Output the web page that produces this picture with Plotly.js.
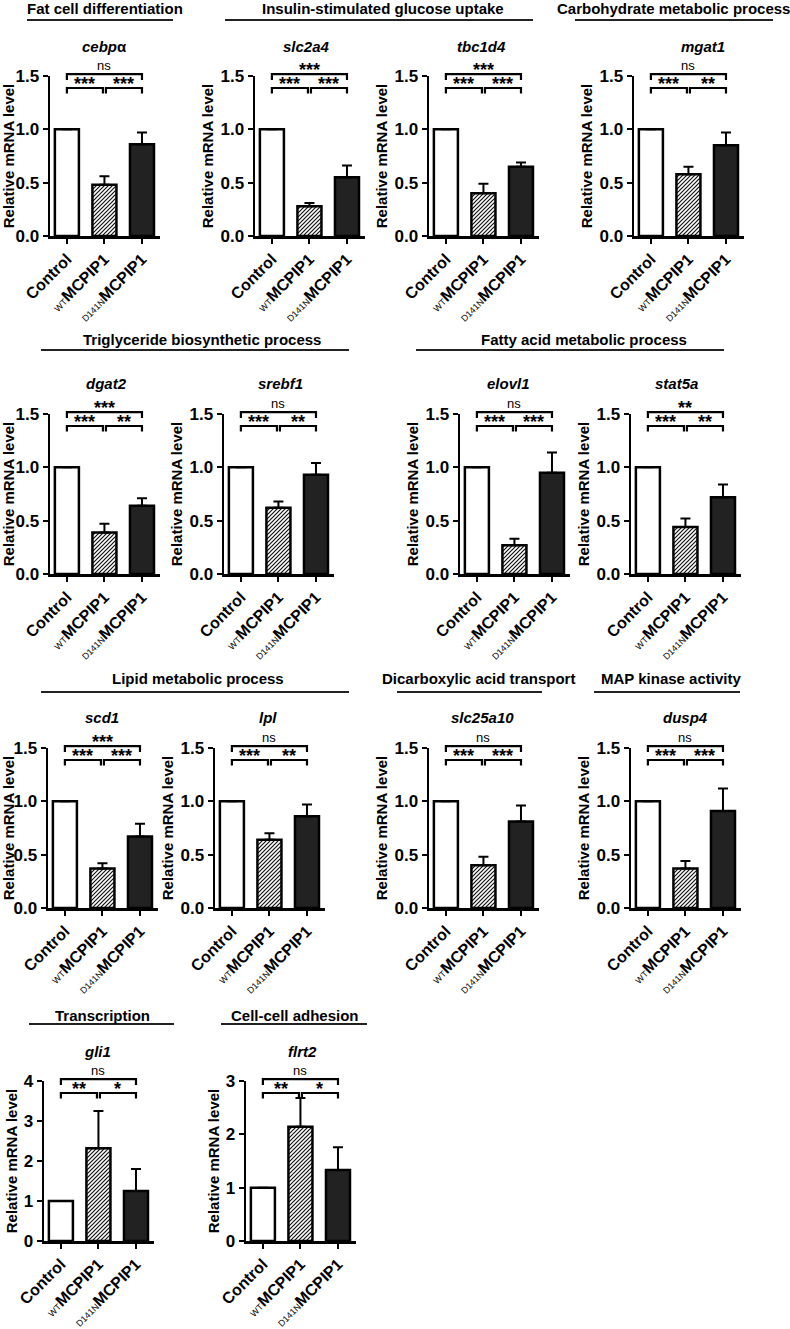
<!DOCTYPE html>
<html><head><meta charset="utf-8">
<script src="https://cdn.plot.ly/plotly-3.0.1.min.js"></script>
<style>html,body{margin:0;padding:0;background:#fff}</style>
</head><body><div id="chart" style="width:790px;height:1329px"></div>
<script>
// ---- data ----
const genes = ['<i>cebp</i>α','<i>slc2a4</i>','<i>tbc1d4</i>','<i>mgat1</i>','<i>dgat2</i>','<i>srebf1</i>','<i>elovl1</i>','<i>stat5a</i>','<i>scd1</i>','<i>lpl</i>','<i>slc25a10</i>','<i>dusp4</i>','<i>gli1</i>','<i>flrt2</i>'];
const categories = ['Control','WT MCPIP1','D141N MCPIP1'];
const tickLabels = ['<b>Control</b>','<span style="font-size:9px">WT</span><b>MCPIP1</b>','<span style="font-size:9px">D141N</span><b>MCPIP1</b>'];
const controlMean = [1,1,1,1,1,1,1,1,1,1,1,1,1,1];
const wtMean   = [0.48,0.28,0.40,0.58,0.39,0.62,0.27,0.44,0.37,0.64,0.40,0.37,2.32,2.14];
const wtErr    = [0.08,0.03,0.09,0.07,0.08,0.06,0.06,0.08,0.05,0.06,0.08,0.07,0.93,0.54];
const d141nMean= [0.86,0.55,0.65,0.85,0.64,0.93,0.95,0.72,0.67,0.86,0.81,0.91,1.25,1.33];
const d141nErr = [0.11,0.11,0.04,0.12,0.07,0.11,0.19,0.12,0.12,0.11,0.15,0.21,0.55,0.43];
const sigCtrlWt    = ['***','***','***','***','***','***','***','***','***','***','***','***','**','**'];
const sigWtD141n   = ['***','***','***','**','**','**','***','**','***','**','***','***','*','*'];
const sigCtrlD141n = ['ns','***','***','ns','***','ns','ns','**','***','ns','ns','ns','ns','ns'];
const yMax  = [1.5,1.5,1.5,1.5,1.5,1.5,1.5,1.5,1.5,1.5,1.5,1.5,4,3];
const yStep = [0.5,0.5,0.5,0.5,0.5,0.5,0.5,0.5,0.5,0.5,0.5,0.5,1,1];
const groupNames = ['Fat cell differentiation','Insulin-stimulated glucose uptake','Carbohydrate metabolic process','Triglyceride biosynthetic process','Fatty acid metabolic process','Lipid metabolic process','Dicarboxylic acid transport','MAP kinase activity','Transcription','Cell-cell adhesion'];

// ---- layout geometry (pixels) ----
const W = 790, H = 1329;
const panelLeft = [50,255,429,634, 50,224,460,631, 48,215,429,631, 44,246];
const panelRow  = [0,0,0,0, 1,1,1,1, 2,2,2,2, 3,3];
const rowTop = [76,414,748,1081];
const plotH = 160, plotW = 110;
const geneCx = [104,306,481,703, 106,280,508,676, 102,268,482,685, 97,302];
const groupCx = [105,383,673, 202,584, 198,478,671, 102,295];
const groupTy = [8,8,8, 340,340, 679,679,679, 1015,1015];
const groupL0 = [27,225,575, 41,416, 41,397,594, 29,221];
const groupL1 = [173,533,773, 349,724, 349,542,740, 174,367];
const groupLy = [20,20,20, 350,350, 692,692,692, 1024,1024];

const FONT = 'Liberation Sans, Arial, Helvetica, sans-serif';
const px2x = p => p / W;
const px2y = p => 1 - p / H;

const traces = [], shapes = [], annotations = [];
const layout = {
  width: W, height: H, margin: {l:0, r:0, t:0, b:0},
  paper_bgcolor: 'white', plot_bgcolor: 'white', showlegend: false,
  font: {family: FONT, color: 'black'}
};

genes.forEach((g, i) => {
  const n = i + 1;
  const xa = 'xaxis' + (i ? n : ''), ya = 'yaxis' + (i ? n : '');
  const xr = 'x' + (i ? n : ''), yr = 'y' + (i ? n : '');
  const top = rowTop[panelRow[i]];
  layout[xa] = {
    domain: [px2x(panelLeft[i]), px2x(panelLeft[i] + plotW)],
    anchor: yr, range: [-0.45, 2.48],
    tickvals: [0,1,2], ticktext: tickLabels, tickangle: -45,
    tickfont: {family: FONT, size: 16, color: 'black'},
    showline: true, linewidth: 2.5, linecolor: 'black',
    ticks: 'outside', ticklen: 5, tickwidth: 2, tickcolor: 'black',
    showgrid: false, zeroline: false, fixedrange: true
  };
  layout[ya] = {
    domain: [px2y(top + plotH), px2y(top)],
    anchor: xr, range: [0, yMax[i]], dtick: yStep[i], tick0: 0,
    tickformat: yStep[i] < 1 ? '.1f' : 'd',
    tickfont: {family: FONT, size: 17, color: 'black', weight: 'bold'},
    title: {text: 'Relative mRNA level', font: {family: FONT, size: 15, weight: 'bold', color: 'black'}, standoff: 3},
    showline: true, linewidth: 2.5, linecolor: 'black',
    ticks: 'outside', ticklen: 5, tickwidth: 2, tickcolor: 'black',
    showgrid: false, zeroline: false, fixedrange: true
  };
  traces.push({
    type: 'bar', xaxis: xr, yaxis: yr,
    x: [0,1,2], y: [controlMean[i], wtMean[i], d141nMean[i]],
    width: 0.64,
    marker: {color: ['white','white','#222222'], line: {color: 'black', width: 2.5}},
    error_y: {type: 'data', symmetric: false, array: [0, wtErr[i], d141nErr[i]], arrayminus: [0,0,0],
              color: 'black', thickness: 2, width: 5},
    hoverinfo: 'skip'
  });
  const ydr = yr + ' domain';
  const up = 1.012, upLeg = 0.975, lo = 0.925, loLeg = 0.89;
  const br = (x0, x1, yl, yb) => ({type: 'path', xref: xr, yref: ydr,
      path: `M${x0},${yb} L${x0},${yl} L${x1},${yl} L${x1},${yb}`,
      line: {color: 'black', width: 2.2}});
  shapes.push(br(0, 0.96, lo, loLeg), br(1.04, 2, lo, loLeg), br(0, 2, up, upLeg));
  const sigAnn = (x, y, t) => {
    const isNs = t === 'ns';
    return {xref: xr, yref: ydr, x: x, y: y, text: t, showarrow: false, yanchor: 'bottom',
      yshift: isNs ? -1 : -8,
      font: {family: FONT, size: isNs ? 13 : 18, weight: isNs ? 'normal' : 'bold', color: '#000000'}};
  };
  annotations.push(sigAnn(0.48, lo, sigCtrlWt[i]), sigAnn(1.52, lo, sigWtD141n[i]), sigAnn(1, up, sigCtrlD141n[i]));
  annotations.push({xref: 'paper', yref: 'paper', x: px2x(geneCx[i]), y: px2y(top - 30),
    text: '<b>' + g + '</b>', showarrow: false, xanchor: 'center', yanchor: 'middle',
    font: {family: FONT, size: 15, color: 'black'}});
});

groupNames.forEach((t, j) => {
  annotations.push({xref: 'paper', yref: 'paper', x: px2x(groupCx[j]), y: px2y(groupTy[j]),
    text: '<b>' + t + '</b>', showarrow: false, xanchor: 'center', yanchor: 'middle',
    font: {family: FONT, size: 15, color: 'black'}});
  shapes.push({type: 'line', xref: 'paper', yref: 'paper',
    x0: px2x(groupL0[j]), x1: px2x(groupL1[j]), y0: px2y(groupLy[j]), y1: px2y(groupLy[j]),
    line: {color: '#222', width: 2}});
});

layout.shapes = shapes;
layout.annotations = annotations;

function applyHatch() {
  const svgNS = 'http://www.w3.org/2000/svg';
  const svg = document.querySelector('#chart svg.main-svg');
  if (!svg) return;
  let defs = svg.querySelector('defs');
  if (!defs) { defs = document.createElementNS(svgNS, 'defs'); svg.insertBefore(defs, svg.firstChild); }
  if (!document.getElementById('hatchWT')) {
    const pat = document.createElementNS(svgNS, 'pattern');
    pat.setAttribute('id', 'hatchWT');
    pat.setAttribute('patternUnits', 'userSpaceOnUse');
    pat.setAttribute('width', '4'); pat.setAttribute('height', '4');
    const bg = document.createElementNS(svgNS, 'rect');
    bg.setAttribute('width', '4'); bg.setAttribute('height', '4'); bg.setAttribute('fill', 'white');
    const ln = document.createElementNS(svgNS, 'path');
    ln.setAttribute('d', 'M-1,1 L1,-1 M0,4 L4,0 M3,5 L5,3');
    ln.setAttribute('stroke', '#111'); ln.setAttribute('stroke-width', '1.2');
    pat.appendChild(bg); pat.appendChild(ln); defs.appendChild(pat);
  }
  // the WT MCPIP1 bar is the second point of every bar trace
  document.querySelectorAll('#chart .barlayer .trace').forEach(tr => {
    const pts = tr.querySelectorAll('.point path');
    if (pts.length > 1) pts[1].style.fill = 'url(#hatchWT)';
  });
}

Plotly.newPlot('chart', traces, layout, {staticPlot: true, displayModeBar: false}).then(applyHatch);
</script>
</body></html>
